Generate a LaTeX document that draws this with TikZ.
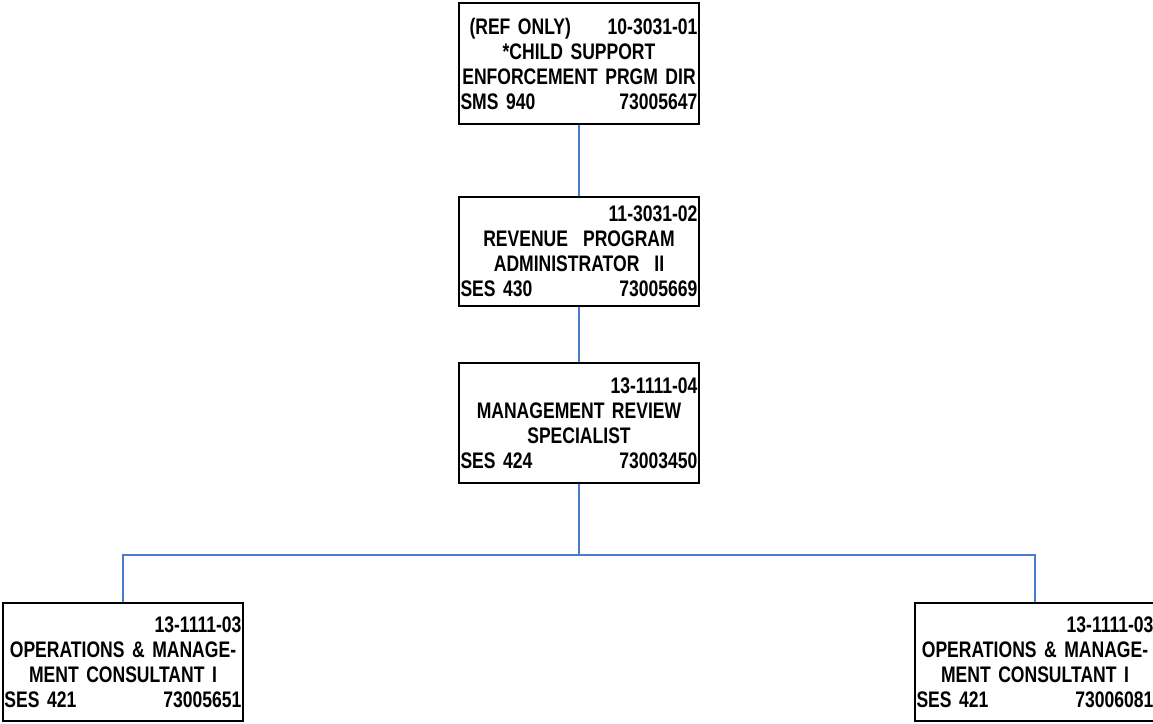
\documentclass[tikz,border=0pt]{standalone}
\usepackage{fontspec}
\setmainfont{Liberation Sans}[FakeStretch=0.78]
\definecolor{linkblue}{HTML}{4A7EC8}
\newcommand{\twoside}[2]{\makebox[\linewidth][s]{#1\hfill #2}}
\newcommand{\boxfont}{\bfseries\fontsize{22.5}{25}\selectfont\spaceskip=4pt plus 1pt minus 1pt\relax}
\begin{document}
\begin{tikzpicture}[x=1pt,y=-1pt,
  posbox/.style={draw=black, line width=1.4pt, rectangle, inner sep=0pt,
    minimum width=240pt, text width=237pt, align=center, font=\boxfont},
  link/.style={draw=linkblue, line width=1.6pt}]
\useasboundingbox (0,0) rectangle (1153,723);

\node[posbox, minimum height=121pt] (dir) at (579,63.5)
  {\twoside{\hspace*{9pt}(REF ONLY)}{10-3031-01}\\
   {*CHILD SUPPORT}\\
   \makebox[\linewidth]{ENFORCEMENT PRGM DIR}\\
   \twoside{SMS 940}{73005647}};

\node[posbox, minimum height=109pt] (rpa) at (579,251.5)
  {\twoside{}{11-3031-02}\\
   REVENUE\ \ PROGRAM\\
   ADMINISTRATOR\ \ II\\
   \twoside{SES 430}{73005669}};

\node[posbox, minimum height=120pt] (mrs) at (579,423)
  {\twoside{}{13-1111-04}\\
   MANAGEMENT REVIEW\\
   SPECIALIST\\
   \twoside{SES 424}{73003450}};

\node[posbox, minimum height=118pt] (omc1) at (123,662)
  {\twoside{}{13-1111-03}\\
   OPERATIONS \& MANAGE-\\
   MENT CONSULTANT I\\
   \twoside{SES 421}{73005651}};

\node[posbox, minimum height=118pt] (omc2) at (1035,662)
  {\twoside{}{13-1111-03}\\
   OPERATIONS \& MANAGE-\\
   MENT CONSULTANT I\\
   \twoside{SES 421}{73006081}};

\coordinate (split) at (579,555);

\draw[link] (dir.south) -- (rpa.north);
\draw[link] (rpa.south) -- (mrs.north);
\draw[link] (mrs.south) -- (split);
\draw[link] (split) -| (omc1.north);
\draw[link] (split) -| (omc2.north);
\end{tikzpicture}
\end{document}
